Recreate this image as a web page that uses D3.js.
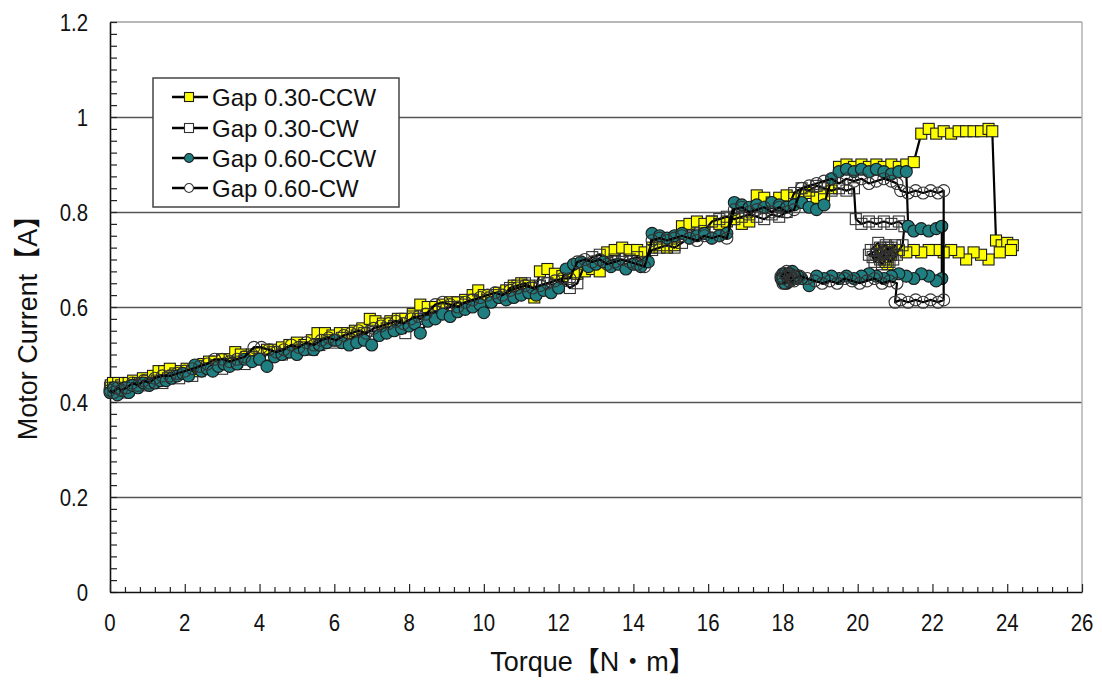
<!DOCTYPE html>
<html>
<head>
<meta charset="utf-8">
<script src="https://cdn.jsdelivr.net/npm/d3@7"></script>
<style>
  html, body { margin: 0; padding: 0; background: #fff; }
  svg { display: block; }
  text { font-family: "Liberation Sans", Arial, "Noto Sans CJK JP", sans-serif; fill: #111; }
</style>
</head>
<body>
<svg id="chart" width="1102" height="681"></svg>
<script>
// Axis ticks
const xTickLabels = [0, 2, 4, 6, 8, 10, 12, 14, 16, 18, 20, 22, 24, 26];
const yTickLabels = [0, 0.2, 0.4, 0.6, 0.8, 1, 1.2];
const xTitle = "Torque【N・m】";
const yTitle = "Motor Current【A】";
const seriesNames = ["Gap 0.30-CCW", "Gap 0.30-CW", "Gap 0.60-CCW", "Gap 0.60-CW"];

// Measured runs: [torque N·m, motor current A]
const gap030ccw = [
  [0.02,0.435],[0.08,0.44],[0.15,0.43],[0.22,0.44],[0.3,0.435],[0.4,0.44],[0.5,0.44],[0.62,0.445],[0.75,0.44],[0.88,0.45],
  [1.0,0.445],[1.15,0.455],[1.3,0.465],[1.45,0.465],[1.6,0.47],[1.75,0.46],[1.9,0.465],[2.05,0.47],[2.2,0.465],[2.35,0.475],
  [2.5,0.48],[2.65,0.485],[2.8,0.485],[3.0,0.49],[3.2,0.49],[3.35,0.505],[3.5,0.5],[3.65,0.495],[3.8,0.5],[4.0,0.505],
  [4.2,0.51],[4.4,0.51],[4.6,0.515],[4.8,0.52],[5.0,0.525],[5.2,0.52],[5.4,0.53],[5.55,0.545],[5.75,0.545],[5.95,0.54],
  [6.15,0.545],[6.35,0.545],[6.55,0.55],[6.75,0.555],[6.95,0.575],[7.1,0.57],[7.3,0.565],[7.5,0.57],[7.7,0.575],[7.9,0.575],
  [8.1,0.585],[8.3,0.605],[8.5,0.6],[8.7,0.6],[8.9,0.605],[9.1,0.61],[9.3,0.61],[9.5,0.615],[9.7,0.625],[9.85,0.635],
  [10.0,0.625],[10.2,0.62],[10.4,0.63],[10.6,0.635],[10.8,0.645],[11.0,0.65],[11.2,0.645],[11.35,0.62],[11.5,0.675],[11.7,0.68],
  [11.9,0.67],[12.1,0.665],[12.3,0.675],[12.5,0.67],[12.7,0.675],[12.9,0.68],[13.1,0.675],[13.3,0.715],[13.5,0.72],[13.7,0.725],
  [13.9,0.72],[14.1,0.72],[14.3,0.715],[14.5,0.725],[14.7,0.73],[14.9,0.725],[15.1,0.73],[15.3,0.77],[15.5,0.775],[15.7,0.78],
  [15.9,0.775],[16.1,0.78],[16.3,0.775],[16.5,0.78],[16.7,0.785],[16.9,0.775],[17.1,0.78],[17.3,0.835],[17.5,0.83],[17.7,0.82],
  [17.9,0.83],[18.1,0.835],[18.3,0.83],[18.5,0.835],[18.7,0.84],[18.9,0.83],[19.1,0.835],[19.3,0.85],[19.5,0.895],[19.7,0.9],
  [19.9,0.895],[20.1,0.9],[20.3,0.895],[20.5,0.9],[20.7,0.895],[20.9,0.9],[21.1,0.895],[21.3,0.9],[21.5,0.905],[21.7,0.965],
  [21.9,0.975],[22.1,0.965],[22.3,0.97],[22.5,0.965],[22.7,0.97],[22.9,0.97],[23.1,0.97],[23.3,0.97],[23.5,0.975],[23.6,0.97],
  [23.7,0.74],[23.85,0.73],[24.0,0.735],[24.15,0.73],[24.1,0.72],[23.8,0.715],[23.5,0.7],[23.3,0.71],[23.1,0.715],[22.9,0.7],
  [22.7,0.715],[22.5,0.72],[22.3,0.715],[22.1,0.72],[21.9,0.72],[21.7,0.715],[21.5,0.72],[21.3,0.715],[21.1,0.72],[20.9,0.71],
  [20.75,0.70],[20.6,0.72],[20.8,0.69],[20.7,0.71],[20.85,0.72],[20.65,0.705],[20.75,0.695],[20.7,0.715]
];

const gap030cw = [
  [0.0,0.43],[0.1,0.42],[0.2,0.425],[0.3,0.43],[0.4,0.42],[0.5,0.425],[0.65,0.435],[0.8,0.44],[0.95,0.435],[1.1,0.44],
  [1.25,0.445],[1.4,0.44],[1.55,0.45],[1.7,0.455],[1.85,0.45],[2.0,0.46],[2.2,0.455],[2.4,0.465],[2.6,0.47],[2.8,0.475],
  [3.0,0.47],[3.2,0.48],[3.4,0.485],[3.6,0.48],[3.8,0.495],[4.0,0.49],[4.2,0.5],[4.4,0.505],[4.6,0.5],[4.8,0.505],
  [5.0,0.51],[5.2,0.515],[5.4,0.51],[5.6,0.52],[5.8,0.53],[6.0,0.525],[6.2,0.535],[6.4,0.53],[6.6,0.54],[6.8,0.545],
  [7.0,0.55],[7.2,0.545],[7.4,0.555],[7.6,0.56],[7.8,0.575],[7.9,0.545],[8.1,0.58],[8.3,0.575],[8.5,0.585],[8.7,0.59],
  [8.9,0.595],[9.1,0.6],[9.3,0.61],[9.5,0.605],[9.7,0.615],[9.9,0.61],[10.1,0.615],[10.3,0.625],[10.5,0.62],[10.7,0.64],
  [10.9,0.645],[11.1,0.65],[11.3,0.64],[11.5,0.645],[11.7,0.65],[11.9,0.645],[12.1,0.655],[12.3,0.64],[12.5,0.65],[12.7,0.69],
  [12.9,0.705],[13.1,0.71],[13.3,0.695],[13.5,0.7],[13.7,0.695],[13.9,0.7],[14.1,0.705],[14.3,0.695],[14.5,0.72],[14.7,0.725],
  [14.9,0.73],[15.1,0.725],[15.3,0.735],[15.5,0.75],[15.7,0.755],[15.9,0.76],[16.1,0.78],[16.3,0.785],[16.5,0.79],[16.7,0.785],
  [16.9,0.79],[17.1,0.795],[17.3,0.79],[17.5,0.785],[17.7,0.795],[17.9,0.79],[18.1,0.8],[18.3,0.84],[18.5,0.85],[18.7,0.845],
  [18.9,0.855],[19.1,0.85],[19.3,0.845],[19.5,0.85],[19.7,0.845],[19.9,0.85],[19.95,0.785],[20.1,0.775],[20.3,0.78],[20.5,0.775],
  [20.7,0.78],[20.9,0.775],[21.1,0.78],[21.25,0.77],[21.2,0.73],[21.1,0.72],[20.95,0.7],[20.8,0.725],[20.6,0.71],[20.45,0.695],
  [20.35,0.72],[20.55,0.735],[20.7,0.70],[20.9,0.715],[20.65,0.69],[20.5,0.71],[20.8,0.705],[21.0,0.73],[20.4,0.705],[20.6,0.725],
  [20.85,0.695],[21.05,0.71],[20.75,0.73],[20.5,0.72],[20.3,0.71],[20.6,0.70],[20.9,0.725],[20.7,0.715]
];

const gap060ccw = [
  [0.0,0.42],[0.1,0.43],[0.2,0.415],[0.3,0.425],[0.4,0.43],[0.5,0.42],[0.6,0.435],[0.75,0.43],[0.9,0.44],[1.05,0.435],
  [1.2,0.44],[1.35,0.445],[1.5,0.445],[1.65,0.45],[1.8,0.455],[1.95,0.46],[2.1,0.455],[2.27,0.478],[2.45,0.465],[2.6,0.47],
  [2.75,0.465],[2.9,0.475],[3.05,0.48],[3.2,0.475],[3.4,0.48],[3.6,0.49],[3.8,0.485],[4.0,0.49],[4.2,0.475],[4.4,0.495],
  [4.6,0.5],[4.8,0.505],[5.0,0.5],[5.2,0.51],[5.45,0.51],[5.6,0.52],[5.8,0.525],[6.0,0.53],[6.2,0.525],[6.4,0.52],
  [6.6,0.525],[6.8,0.53],[7.0,0.52],[7.2,0.54],[7.4,0.545],[7.6,0.55],[7.8,0.555],[8.0,0.56],[8.15,0.565],[8.3,0.545],
  [8.5,0.57],[8.7,0.575],[8.9,0.585],[9.1,0.58],[9.3,0.59],[9.5,0.595],[9.7,0.6],[9.9,0.605],[10.0,0.588],[10.2,0.61],
  [10.4,0.62],[10.6,0.615],[10.8,0.62],[11.0,0.625],[11.2,0.63],[11.4,0.625],[11.6,0.635],[11.8,0.63],[12.0,0.64],[12.2,0.68],
  [12.4,0.69],[12.6,0.695],[12.8,0.685],[13.0,0.69],[13.2,0.695],[13.4,0.685],[13.6,0.69],[13.8,0.68],[14.0,0.69],[14.2,0.685],
  [14.4,0.695],[14.5,0.755],[14.7,0.75],[14.9,0.745],[15.1,0.75],[15.3,0.755],[15.5,0.745],[15.7,0.75],[15.9,0.755],[16.1,0.745],
  [16.3,0.75],[16.5,0.755],[16.7,0.82],[16.9,0.815],[17.1,0.81],[17.3,0.815],[17.5,0.81],[17.7,0.82],[17.9,0.815],[18.1,0.81],
  [18.3,0.815],[18.5,0.82],[18.7,0.81],[18.9,0.805],[19.1,0.815],[19.3,0.87],[19.5,0.885],[19.7,0.89],[19.9,0.885],[20.1,0.89],
  [20.3,0.885],[20.5,0.89],[20.7,0.885],[20.9,0.88],[21.1,0.885],[21.3,0.885],[21.35,0.77],[21.5,0.76],[21.7,0.765],[21.9,0.76],
  [22.1,0.765],[22.25,0.77],[22.25,0.66],[22.1,0.655],[21.9,0.665],[21.7,0.67],[21.5,0.66],[21.3,0.665],[21.1,0.67],[20.9,0.665],
  [20.7,0.66],[20.5,0.665],[20.3,0.67],[20.1,0.665],[19.9,0.66],[19.7,0.665],[19.5,0.66],[19.3,0.665],[19.1,0.66],[18.9,0.665],
  [18.7,0.645],[18.5,0.66],[18.4,0.665],[18.3,0.67],[18.2,0.66],[18.1,0.655],[18.0,0.665],[18.05,0.67],[18.15,0.66],[18.1,0.65],
  [18.0,0.655],[18.2,0.665],[18.1,0.66],[18.25,0.675],[18.0,0.67],[17.95,0.66],[18.2,0.655],[18.35,0.66],[18.05,0.65],[18.15,0.67],
  [18.3,0.665],[18.0,0.66]
];

const gap060cw = [
  [0.0,0.425],[0.1,0.42],[0.2,0.43],[0.3,0.425],[0.45,0.43],[0.6,0.44],[0.75,0.435],[0.9,0.445],[1.05,0.44],[1.2,0.45],
  [1.4,0.455],[1.6,0.455],[1.8,0.46],[2.0,0.465],[2.2,0.47],[2.4,0.475],[2.6,0.48],[2.8,0.49],[3.0,0.49],[3.2,0.485],
  [3.4,0.49],[3.6,0.495],[3.85,0.515],[4.05,0.515],[4.25,0.51],[4.45,0.505],[4.65,0.51],[4.85,0.52],[5.05,0.515],[5.25,0.525],
  [5.45,0.52],[5.65,0.53],[5.85,0.535],[6.05,0.53],[6.25,0.54],[6.45,0.545],[6.65,0.55],[6.85,0.545],[7.05,0.555],[7.25,0.56],
  [7.45,0.565],[7.65,0.57],[7.85,0.565],[8.05,0.575],[8.25,0.58],[8.45,0.585],[8.7,0.605],[8.9,0.61],[9.1,0.605],[9.3,0.6],
  [9.5,0.61],[9.7,0.615],[9.9,0.62],[10.1,0.625],[10.3,0.63],[10.5,0.625],[10.7,0.635],[10.9,0.64],[11.1,0.645],[11.3,0.64],
  [11.5,0.645],[11.7,0.65],[11.9,0.655],[12.1,0.66],[12.3,0.66],[12.5,0.695],[12.7,0.7],[12.9,0.695],[13.1,0.7],[13.3,0.69],
  [13.5,0.695],[13.7,0.7],[13.9,0.695],[14.1,0.69],[14.3,0.685],[14.5,0.74],[14.7,0.745],[14.9,0.74],[15.1,0.745],[15.3,0.75],
  [15.5,0.745],[15.7,0.74],[15.9,0.75],[16.1,0.745],[16.3,0.75],[16.5,0.745],[16.7,0.805],[16.9,0.81],[17.1,0.8],[17.3,0.805],
  [17.5,0.81],[17.7,0.8],[17.9,0.81],[18.1,0.8],[18.3,0.805],[18.5,0.85],[18.7,0.855],[18.9,0.86],[19.1,0.865],[19.3,0.87],
  [19.5,0.86],[19.7,0.87],[19.9,0.865],[20.1,0.87],[20.3,0.86],[20.5,0.865],[20.7,0.87],[20.9,0.865],[21.05,0.86],[21.15,0.845],
  [21.35,0.84],[21.55,0.845],[21.75,0.84],[21.95,0.845],[22.15,0.84],[22.3,0.845],[22.3,0.615],[22.15,0.61],[21.95,0.615],[21.75,0.61],
  [21.55,0.615],[21.35,0.61],[21.15,0.615],[21.0,0.61],[21.05,0.65],[20.85,0.655],[20.65,0.65],[20.45,0.66],[20.25,0.655],[20.05,0.65],
  [19.85,0.655],[19.65,0.66],[19.45,0.65],[19.25,0.655],[19.05,0.65],[18.85,0.655],[18.65,0.66],[18.45,0.665],[18.3,0.66],[18.2,0.67],
  [18.1,0.665],[18.0,0.66],[18.15,0.655],[18.05,0.67],[18.25,0.66],[17.95,0.665],[18.1,0.675],[18.3,0.655],[18.0,0.65],[18.2,0.665]
];

const seriesData = [gap030ccw, gap030cw, gap060ccw, gap060cw];

// Marker appearance per series
const markerStyles = [
  { shape: "square", fill: "#FFFF00", stroke: "#1a1a1a" },
  { shape: "square", fill: "none",    stroke: "#333333" },
  { shape: "circle", fill: "#1F7F80", stroke: "#1a1a1a" },
  { shape: "circle", fill: "none",    stroke: "#333333" }
];

const svg = d3.select("#chart");
const plot = { left: 110, right: 1082, top: 22, bottom: 592 };

const x = d3.scaleLinear().domain([0, 26]).range([plot.left, plot.right]);
const y = d3.scaleLinear().domain([0, 1.2]).range([plot.bottom, plot.top]);

svg.append("rect").attr("width", 1102).attr("height", 681).attr("fill", "#fff");

// Horizontal gridlines
svg.append("g")
  .attr("transform", `translate(${plot.left},0)`)
  .call(d3.axisLeft(y).tickValues([0.2, 0.4, 0.6, 0.8, 1.0]).tickSize(-(plot.right - plot.left)).tickFormat(""))
  .call(g => g.select(".domain").remove())
  .call(g => g.selectAll("line").attr("stroke", "#555").attr("stroke-width", 1.5));

// Frame: light top and right edges
svg.append("line").attr("x1", plot.left).attr("x2", plot.right).attr("y1", y(1.2)).attr("y2", y(1.2))
  .attr("stroke", "#a0a0a0").attr("stroke-width", 1.5);
svg.append("line").attr("x1", plot.right).attr("x2", plot.right).attr("y1", plot.top).attr("y2", plot.bottom)
  .attr("stroke", "#b0b0b0").attr("stroke-width", 1.5);

// Left axis with inward minor ticks
const yMinor = d3.range(0, 1.2001, 0.025);
svg.append("g")
  .attr("transform", `translate(${plot.left},0)`)
  .call(d3.axisLeft(y).tickValues(yMinor).tickSize(-7).tickSizeOuter(0).tickFormat(""))
  .call(g => g.select(".domain").attr("stroke", "#111").attr("stroke-width", 1.6))
  .call(g => g.selectAll(".tick line").attr("stroke", "#222").attr("stroke-width", 1.2));

// Bottom axis with inward minor and major ticks
const xMinor = d3.range(0, 26.001, 0.4).filter(v => Math.abs(v / 2 - Math.round(v / 2)) > 1e-6);
svg.append("g")
  .attr("transform", `translate(0,${plot.bottom})`)
  .call(d3.axisBottom(x).tickValues(xMinor).tickSize(-5).tickSizeOuter(0).tickFormat(""))
  .call(g => g.select(".domain").remove())
  .call(g => g.selectAll(".tick line").attr("stroke", "#222").attr("stroke-width", 1.2));
svg.append("g")
  .attr("transform", `translate(0,${plot.bottom})`)
  .call(d3.axisBottom(x).tickValues(xTickLabels).tickSize(-8).tickSizeOuter(0).tickFormat(""))
  .call(g => g.select(".domain").attr("stroke", "#111").attr("stroke-width", 1.6))
  .call(g => g.selectAll(".tick line").attr("stroke", "#222").attr("stroke-width", 1.2));

// Tick labels (narrow face)
const tickFont = 24;
svg.append("g").selectAll("text").data(yTickLabels).join("text")
  .attr("transform", d => `translate(88,${y(d) + 8.5}) scale(0.85,1)`)
  .attr("text-anchor", "end")
  .attr("font-size", tickFont)
  .text(d => String(d));
svg.append("g").selectAll("text").data(xTickLabels).join("text")
  .attr("transform", d => `translate(${x(d)},631) scale(0.85,1)`)
  .attr("text-anchor", "middle")
  .attr("font-size", tickFont)
  .text(d => String(d));

// Axis titles
svg.append("text")
  .attr("x", (plot.left + plot.right) / 2 - 3).attr("y", 671)
  .attr("text-anchor", "middle").attr("font-size", 27)
  .text(xTitle);
svg.append("text")
  .attr("transform", `translate(37,321) rotate(-90)`)
  .attr("text-anchor", "middle").attr("font-size", 27)
  .text(yTitle);

// Series: connecting line, then markers
const lineGen = d3.line().x(d => x(d[0])).y(d => y(d[1]));
const sq = 11, rad = 6;

function drawMarker(sel, style, size) {
  if (style.shape === "square") {
    sel.append("rect")
      .attr("x", -size / 2).attr("y", -size / 2).attr("width", size).attr("height", size)
      .attr("fill", style.fill).attr("stroke", style.stroke).attr("stroke-width", 1.1);
  } else {
    sel.append("circle")
      .attr("r", size / 2)
      .attr("fill", style.fill).attr("stroke", style.stroke).attr("stroke-width", 1.1);
  }
}

seriesData.forEach((data, i) => {
  const style = markerStyles[i];
  const g = svg.append("g").attr("class", "series");
  g.append("path").datum(data)
    .attr("d", lineGen)
    .attr("fill", "none").attr("stroke", "#000").attr("stroke-width", 2.2)
    .attr("stroke-linejoin", "round");
  g.selectAll("g.pt").data(data).join("g").attr("class", "pt")
    .attr("transform", d => `translate(${x(d[0])},${y(d[1])})`)
    .each(function () { drawMarker(d3.select(this), style, style.shape === "square" ? sq : rad * 2); });
});

// Legend
const legend = svg.append("g").attr("transform", "translate(153,78)");
legend.append("rect").attr("width", 246).attr("height", 129)
  .attr("fill", "#fff").attr("stroke", "#444").attr("stroke-width", 1.5);
const rowY = [19, 50, 80, 110];
seriesNames.forEach((name, i) => {
  const row = legend.append("g").attr("transform", `translate(0,${rowY[i]})`);
  row.append("line").attr("x1", 19).attr("x2", 55).attr("y1", 0).attr("y2", 0)
    .attr("stroke", "#000").attr("stroke-width", 2.6);
  const m = row.append("g").attr("transform", "translate(36,0)");
  drawMarker(m, markerStyles[i].fill === "none" ? { ...markerStyles[i], fill: "#fff" } : markerStyles[i], 9);
  row.append("text").attr("x", 59).attr("y", 8.5).attr("font-size", 24).text(name);
});
</script>
</body>
</html>
